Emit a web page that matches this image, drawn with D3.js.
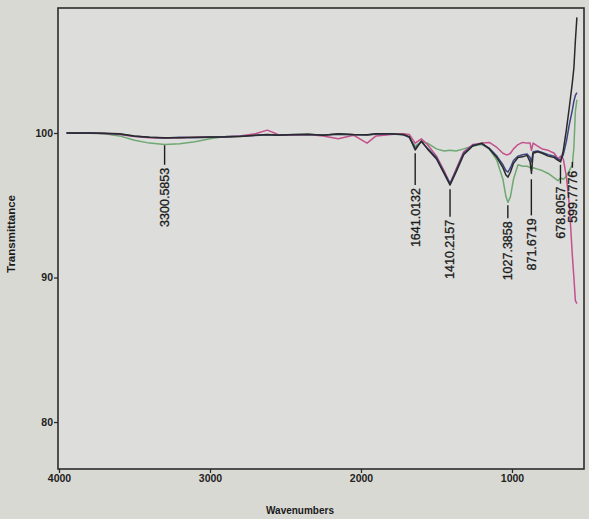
<!DOCTYPE html>
<html>
<head>
<meta charset="utf-8">
<script src="https://cdn.jsdelivr.net/npm/d3@7"></script>
<style>
  body { margin: 0; background: #d9d9d4; }
  svg { display: block; }
  .tick text { font-family: "Liberation Sans Narrow", "Liberation Sans", Arial, sans-serif; font-size: 10.5px; font-weight: bold; fill: #222; }
  .lbl { font-family: "Liberation Sans", Arial, sans-serif; fill: #1a1a1a; }
</style>
</head>
<body>
<svg id="chart" width="589" height="519"></svg>
<script>
// wavenumber grid shared by all spectra (cm-1)
const wavenumbers = [3950, 3900, 3800, 3700, 3600, 3500, 3400, 3300, 3200, 3100, 3000, 2900, 2800, 2700, 2620, 2550,
  2450, 2350, 2250, 2150, 2050, 1960, 1900, 1800, 1720, 1680, 1641, 1600, 1560, 1500, 1450, 1410, 1370, 1320,
  1260, 1200, 1150, 1100, 1060, 1040, 1027, 1010, 990, 960, 930, 900, 880, 871, 860, 830, 800, 760, 720, 695,
  678, 660, 640, 620, 600, 590, 580, 570];

// % transmittance
const blackT = [100.0, 100.0, 100.0, 99.98, 99.95, 99.8, 99.7, 99.68, 99.68, 99.7, 99.72, 99.72, 99.75, 99.85, 99.9, 99.85,
  99.9, 99.92, 99.85, 99.95, 99.9, 99.88, 99.95, 99.95, 99.9, 99.75, 98.82, 99.45, 98.9, 98.2, 97.2, 96.4, 97.3, 98.5,
  99.1, 99.3, 98.9, 98.3, 97.6, 97.1, 96.95, 97.3, 97.9, 98.3, 98.35, 98.45, 98.0, 97.2, 98.6, 98.7, 98.6, 98.4, 98.3, 98.1,
  98.0, 98.8, 100.2, 101.8, 103.5, 104.5, 106.4, 108.0];
const blueT = [100.0, 99.98, 100.0, 99.97, 99.93, 99.78, 99.7, 99.66, 99.7, 99.68, 99.7, 99.74, 99.78, 99.83, 99.88, 99.87,
  99.88, 99.9, 99.87, 99.92, 99.88, 99.86, 99.93, 99.93, 99.88, 99.7, 98.95, 99.4, 98.95, 98.3, 97.3, 96.5, 97.4, 98.6,
  99.15, 99.25, 98.95, 98.4, 97.8, 97.4, 97.3, 97.6, 98.1, 98.4, 98.5, 98.55, 98.3, 98.0, 98.7, 98.75, 98.65, 98.5, 98.4, 98.2,
  98.1, 98.5, 99.4, 100.6, 101.6, 102.2, 102.6, 102.8];
const greenT = [100.0, 100.0, 99.98, 99.95, 99.8, 99.5, 99.3, 99.2, 99.25, 99.4, 99.6, 99.75, 99.8, 99.85, 99.88, 99.85,
  99.88, 99.9, 99.86, 99.92, 99.88, 99.86, 99.92, 99.93, 99.9, 99.7, 99.1, 99.4, 99.3, 98.9, 98.75, 98.8, 98.75, 98.9,
  99.1, 99.2, 98.9, 98.1, 96.8, 95.6, 95.2, 95.6, 96.8, 97.8, 97.7, 97.7, 97.6, 97.5, 97.6, 97.5, 97.4, 97.2, 96.9, 96.7,
  96.9, 96.8, 97.0, 97.4, 97.8, 99.0, 101.5, 102.3];
const magentaT = [100.0, 100.0, 100.0, 99.97, 99.9, 99.75, 99.68, 99.66, 99.67, 99.7, 99.72, 99.74, 99.8, 99.95, 100.2, 99.9,
  99.85, 99.9, 99.8, 99.6, 99.85, 99.3, 99.8, 99.9, 99.95, 99.9, 99.3, 99.6, 99.2, 98.4, 97.4, 96.5, 97.5, 98.7,
  99.2, 99.3, 99.35, 99.0, 98.6, 98.5, 98.5, 98.6, 98.9, 99.2, 99.35, 99.3, 99.3, 98.8, 99.3, 99.1, 98.9, 98.8, 98.6, 98.2,
  98.4, 98.2, 97.0, 95.0, 91.5, 90.0, 88.4, 88.2];

// peak labels: position, text, and label stem extent (in % T)
const peakWn = [3300.5853, 1641.0132, 1410.2157, 1027.3858, 871.6719, 678.8057, 599.7776];
const peakText = ["3300.5853", "1641.0132", "1410.2157", "1027.3858", "871.6719", "678.8057", "599.7776"];
const peakTop = [99.15, 98.6, 96.1, 95.0, 96.8, 97.8, 98.0];
const peakBottom = [97.8, 96.4, 94.2, 94.1, 94.3, 96.5, 97.6];

const xTicks = [4000, 3000, 2000, 1000];
const yTicks = [80, 90, 100];

const svg = d3.select("#chart");
const plotLeft = 58, plotRight = 584, plotTop = 8, plotBottom = 469;

const x = d3.scaleLinear().domain([4000, 523]).range([plotLeft + 1, plotRight]);
const y = d3.scaleLinear().domain([76.75, 108.65]).range([plotBottom, plotTop]);

svg.append("rect")
  .attr("x", plotLeft).attr("y", plotTop)
  .attr("width", plotRight - plotLeft).attr("height", plotBottom - plotTop)
  .attr("fill", "#dddedb").attr("stroke", "#2b2b2b").attr("stroke-width", 1.6);

const series = [
  { vals: greenT, color: "#6fa872" },
  { vals: magentaT, color: "#c4508c" },
  { vals: blueT, color: "#3d4585" },
  { vals: blackT, color: "#2a2a2a" }
];

const line = d3.line()
  .x((d, i) => x(wavenumbers[i]))
  .y(d => y(d));

svg.append("g").selectAll("path")
  .data(series)
  .enter().append("path")
  .attr("d", s => line(s.vals))
  .attr("fill", "none")
  .attr("stroke", s => s.color)
  .attr("stroke-width", 1.5)
  .attr("stroke-linejoin", "round");

// peak stems + rotated labels
const peaks = peakWn.map((w, i) => ({ w, text: peakText[i], t0: peakTop[i], t1: peakBottom[i] }));
const pg = svg.append("g");
pg.selectAll("line")
  .data(peaks)
  .enter().append("line")
  .attr("x1", d => x(d.w)).attr("x2", d => x(d.w))
  .attr("y1", d => y(d.t0)).attr("y2", d => y(d.t1))
  .attr("stroke", "#1e1e1e").attr("stroke-width", 1.4);
pg.selectAll("text")
  .data(peaks)
  .enter().append("text")
  .attr("class", "lbl")
  .attr("transform", d => `translate(${x(d.w)},${y(d.t1) + 3}) rotate(-90)`)
  .attr("text-anchor", "end")
  .attr("dy", "0.35em")
  .attr("font-size", "12.5px")
  .attr("stroke", "#1a1a1a").attr("stroke-width", 0.3)
  .text(d => d.text);

// axes
const yAxis = svg.append("g")
  .attr("transform", `translate(${plotLeft},0)`)
  .call(d3.axisLeft(y).tickValues(yTicks).tickSize(4).tickPadding(1).tickFormat(d3.format("d")));
yAxis.select(".domain").remove();
yAxis.selectAll(".tick line").attr("stroke", "#2b2b2b").attr("stroke-width", 1.3);

const xAxis = svg.append("g")
  .attr("transform", `translate(0,${plotBottom})`)
  .call(d3.axisBottom(x).tickValues(xTicks).tickSize(4).tickPadding(2).tickFormat(d3.format("d")));
xAxis.select(".domain").remove();
xAxis.selectAll(".tick line").attr("stroke", "#2b2b2b").attr("stroke-width", 1.3);

svg.append("text")
  .attr("class", "lbl")
  .attr("x", 300).attr("y", 514)
  .attr("text-anchor", "middle")
  .attr("font-size", "10px")
  .attr("font-weight", "bold")
  .text("Wavenumbers");

svg.append("text")
  .attr("class", "lbl")
  .attr("transform", "translate(15,234) rotate(-90)")
  .attr("text-anchor", "middle")
  .attr("font-size", "10px")
  .attr("font-weight", "bold")
  .attr("textLength", 78)
  .attr("lengthAdjust", "spacingAndGlyphs")
  .text("Transmittance");
</script>
</body>
</html>
